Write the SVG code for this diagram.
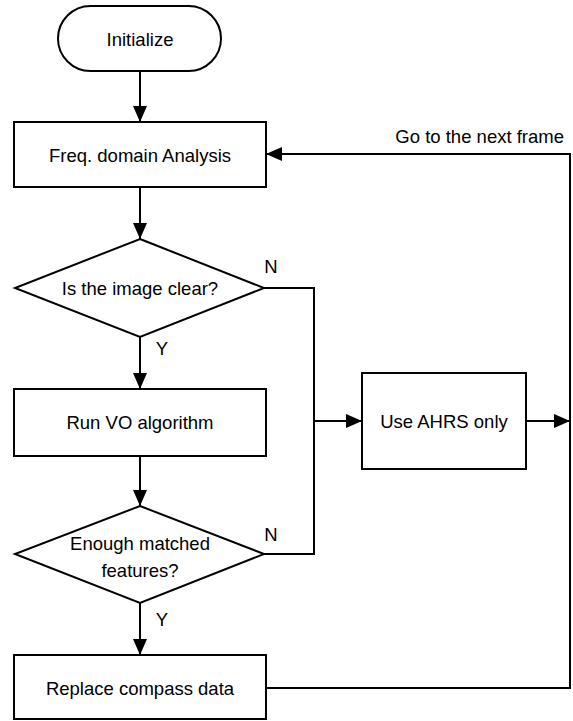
<svg xmlns="http://www.w3.org/2000/svg" width="573" height="721" viewBox="0 0 573 721">
  <style>
    .shape { fill: #ffffff; stroke: #000000; stroke-width: 2; }
    .wire { fill: none; stroke: #000000; stroke-width: 2; }
    text { font-family: "Liberation Sans", Arial, sans-serif; font-size: 18.5px; fill: #000000; }
    .mid { text-anchor: middle; dominant-baseline: central; }
  </style>
  <defs>
    <marker id="arrow" viewBox="0 0 16 14" refX="16" refY="7" markerWidth="16" markerHeight="14" markerUnits="userSpaceOnUse" orient="auto">
      <path d="M0,0 L16,7 L0,14 Z" fill="#000000"/>
    </marker>
  </defs>
  <rect width="573" height="721" fill="#ffffff"/>

  <g id="connectors">
    <line class="wire" x1="140" y1="71" x2="140" y2="122" marker-end="url(#arrow)"/>
    <line class="wire" x1="140" y1="187" x2="140" y2="239" marker-end="url(#arrow)"/>
    <line class="wire" x1="140" y1="337" x2="140" y2="389" marker-end="url(#arrow)"/>
    <line class="wire" x1="140" y1="456" x2="140" y2="506" marker-end="url(#arrow)"/>
    <line class="wire" x1="140" y1="603" x2="140" y2="655" marker-end="url(#arrow)"/>
    <polyline class="wire" points="264,288 314,288 314,554 264,554"/>
    <line class="wire" x1="314" y1="421" x2="362" y2="421" marker-end="url(#arrow)"/>
    <line class="wire" x1="526" y1="421" x2="570" y2="421" marker-end="url(#arrow)"/>
    <polyline class="wire" points="266,688 570,688 570,154 266,154" marker-end="url(#arrow)"/>
    <text x="271" y="266" class="mid">N</text>
    <text x="271" y="534" class="mid">N</text>
    <text x="162" y="348" class="mid">Y</text>
    <text x="162" y="619" class="mid">Y</text>
    <text x="564" y="136" text-anchor="end" dominant-baseline="central">Go to the next frame</text>
  </g>

  <g id="initialize">
    <rect class="shape" x="58" y="6" width="163" height="65" rx="32.5" ry="32.5"/>
    <text x="140" y="39" class="mid">Initialize</text>
  </g>

  <g id="freq-analysis">
    <rect class="shape" x="14" y="122" width="252" height="65"/>
    <text x="140" y="155" class="mid">Freq. domain Analysis</text>
  </g>

  <g id="image-clear">
    <polygon class="shape" points="140,239 264,288 140,337 15,288"/>
    <text x="140" y="288" class="mid">Is the image clear?</text>
  </g>

  <g id="run-vo">
    <rect class="shape" x="14" y="389" width="252" height="67"/>
    <text x="140" y="422" class="mid">Run VO algorithm</text>
  </g>

  <g id="enough-features">
    <polygon class="shape" points="140,506 264,554 140,603 15,554"/>
    <text x="140" y="543" class="mid">Enough matched</text>
    <text x="140" y="570" class="mid">features?</text>
  </g>

  <g id="replace-compass">
    <rect class="shape" x="14" y="655" width="252" height="64"/>
    <text x="140" y="688" class="mid">Replace compass data</text>
  </g>

  <g id="ahrs-only">
    <rect class="shape" x="362" y="373" width="164" height="96"/>
    <text x="444" y="421" class="mid">Use AHRS only</text>
  </g>
</svg>
